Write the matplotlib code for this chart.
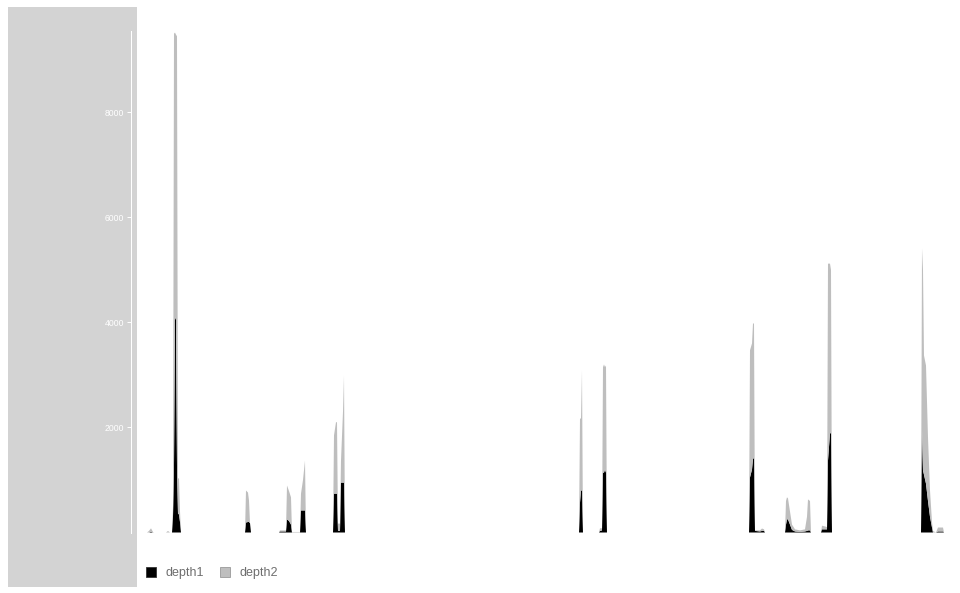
import matplotlib
matplotlib.use('Agg')
import matplotlib.pyplot as plt
from matplotlib.patches import Patch, Rectangle

plt.rcParams['font.family'] = ['Liberation Sans', 'DejaVu Sans']

# position along the sequence, depth of the two samples (depth2 stacked on depth1)
pos = [147, 149, 151, 153, 154, 166, 168, 170,
       172, 173, 174, 175, 176, 177, 178, 179, 180, 181,
       245, 246, 248, 249, 250, 251,
       279, 280, 286, 287, 289, 291, 292, 300, 301, 303, 305, 306,
       333, 334, 336, 337, 338, 340, 341, 343, 344, 345,
       579, 580, 581, 582, 583,
       599, 600, 602, 603, 604, 605, 606, 607,
       749, 750, 752, 753, 754, 755, 760, 762, 764, 765,
       785, 786, 787, 788, 790, 792, 795, 800, 805, 807, 808, 810, 811,
       821, 822, 826, 827, 828, 830, 831, 832,
       921, 922, 923, 924, 926, 928, 930, 932, 933, 936, 938, 943, 944]
depth1 = [0, 0, 15, 0, 0, 0, 0, 0,
          0, 300, 1280, 4100, 4050, 1270, 350, 350, 200, 0,
          0, 190, 200, 200, 180, 0,
          0, 20, 20, 250, 220, 150, 0, 0, 420, 420, 420, 0,
          0, 740, 740, 740, 30, 30, 950, 950, 950, 0,
          0, 570, 800, 800, 0,
          0, 30, 40, 1140, 1140, 1200, 1140, 0,
          0, 1050, 1200, 1410, 1410, 30, 20, 30, 30, 0,
          0, 150, 250, 250, 150, 50, 20, 10, 20, 30, 40, 40, 0,
          0, 60, 60, 60, 1370, 1890, 1890, 0,
          0, 1940, 1180, 1100, 930, 600, 300, 95, 0, 0, 20, 20, 0]
depth2 = [0, 30, 65, 10, 0, 0, 30, 0,
          0, 200, 8220, 5420, 5430, 8180, 680, 680, 200, 0,
          0, 610, 560, 410, 0, 0,
          0, 20, 20, 645, 570, 520, 10, 10, 320, 580, 950, 0,
          0, 1110, 1360, 1360, 140, 140, 420, 1350, 2040, 0,
          0, 1600, 1370, 2290, 0,
          0, 50, 40, 2010, 2060, 1950, 2040, 0,
          0, 2420, 2400, 2570, 2570, 10, 20, 46, 30, 0,
          0, 450, 420, 400, 250, 100, 40, 30, 40, 270, 590, 560, 0,
          0, 70, 50, 40, 3750, 3230, 3110, 0,
          0, 3470, 3820, 2270, 2250, 1210, 500, 105, 30, 0, 75, 75, 0]
series = ['depth1', 'depth2']
colors = ['black', '#bebebe']

W, H = 960, 593
fig = plt.figure(figsize=(9.6, 5.93), dpi=100, facecolor='white')

# grey panel behind the y axis
fig.patches.append(Rectangle((8 / W, 6 / H), 129 / W, 580 / H,
                             transform=fig.transFigure, facecolor='#d3d3d3',
                             edgecolor='none', zorder=-5))

ax = fig.add_axes([131 / W, (H - 532.5) / H, 819 / W, 501.5 / H])
ax.set_zorder(2)
ax.patch.set_visible(False)
ax.stackplot(pos, depth1, depth2, colors=colors, linewidth=0)

ax.set_xlim(131, 950)
ax.set_ylim(0, 9550)
ax.set_xticks([])
ax.set_yticks([2000, 4000, 6000, 8000])
ax.tick_params(axis='y', colors='white', labelcolor='white', labelsize=6.2,
               length=3, width=0.7, pad=2)
for s in ['top', 'right', 'bottom']:
    ax.spines[s].set_visible(False)
ax.spines['left'].set_color('white')
ax.spines['left'].set_linewidth(0.75)

handles = [Patch(facecolor='black', edgecolor='#333333', linewidth=0.6),
           Patch(facecolor='#bebebe', edgecolor='#999999', linewidth=0.6)]
fig.legend(handles, series, loc='center left',
           bbox_to_anchor=(146 / W, (H - 573) / H), ncol=2, frameon=False,
           fontsize=9, labelcolor='#6e6e6e', handlelength=0.8,
           handleheight=0.8, handletextpad=0.75, columnspacing=1.3,
           borderpad=0, borderaxespad=0)

fig.savefig('out.png', dpi=100, facecolor='white')
